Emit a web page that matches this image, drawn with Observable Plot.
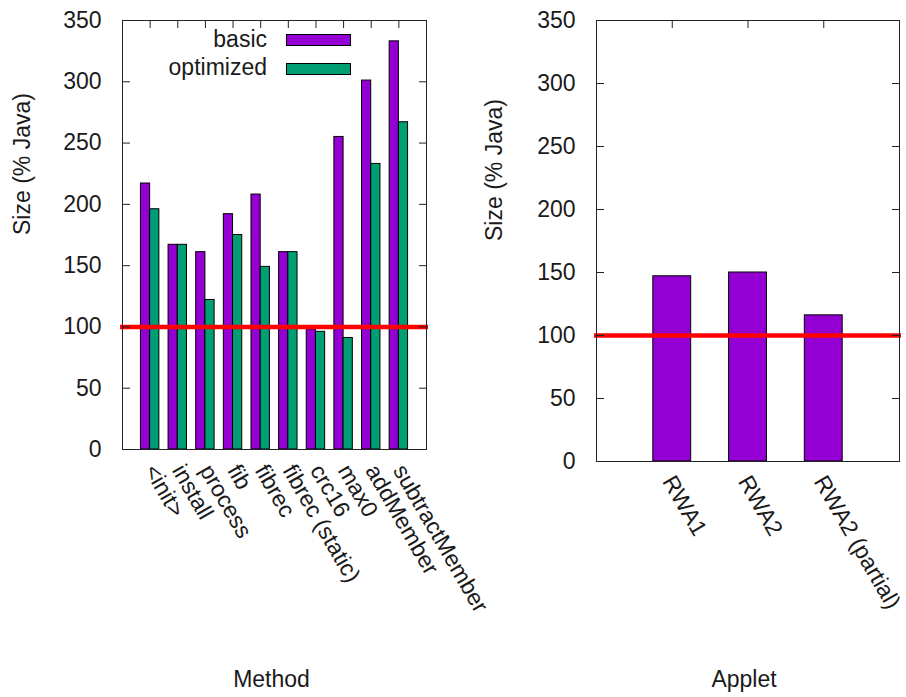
<!DOCTYPE html>
<html>
<head>
<meta charset="utf-8">
<script src="https://cdn.jsdelivr.net/npm/d3@7"></script>
<script src="https://cdn.jsdelivr.net/npm/@observablehq/plot@0.6"></script>
<style>
  body { margin: 0; background: #fff; }
  #wrap { position: relative; width: 906px; height: 697px; font-family: "Liberation Sans", Arial, sans-serif; color: #1a1a1a; }
  #wrap svg { position: absolute; top: 0; overflow: visible; background: transparent; max-width: none; }
  .leg { position: absolute; font-size: 23px; line-height: 23px; }
  .sw { position: absolute; box-sizing: border-box; border: 1px solid #000; }
</style>
</head>
<body>
<div id="wrap"></div>
<script>
// ---- data ----
const methods = ["<init>", "install", "process", "fib", "fibrec", "fibrec (static)", "crc16", "max0", "addMember", "subtractMember"];
const basicValues = [217, 167, 161, 192, 208, 161, 98, 255, 301, 333];
const optimizedValues = [196, 167, 122, 175, 149, 161, 96, 91, 233, 267];
const applets = ["RWA1", "RWA2", "RWA2 (partial)"];
const appletValues = [147, 150, 116];
const seriesNames = ["basic", "optimized"];
const yTicks = [0, 50, 100, 150, 200, 250, 300, 350];
const javaBaseline = [100];
const yLabel = "Size (% Java)";
const xLabelLeft = "Method";
const xLabelRight = "Applet";

const colors = {basic: "#9400d3", optimized: "#009e73"};
const FONT = {fontFamily: "Liberation Sans, Arial, sans-serif", fontSize: "23px", color: "#1a1a1a", background: "transparent", overflow: "visible"};

// clustered bars: gap 1, two bars per cluster
const leftBars = [];
methods.forEach((m, i) => {
  leftBars.push({method: m, series: "basic", x1: i - 1/3, x2: i, value: basicValues[i]});
  leftBars.push({method: m, series: "optimized", x1: i, x2: i + 1/3, value: optimizedValues[i]});
});
const rightBars = applets.map((a, i) => ({applet: a, x1: i - 0.25, x2: i + 0.25, value: appletValues[i]}));

const wrap = document.getElementById("wrap");

function panel({width, marginLeft, marginRight, marginBottom, xDomain, bars, fillFn, names, xTitle, xTitleDx, xTitleDy, yTitleDx, labelPad, labelDx}) {
  const idx = d3.range(names.length);
  return Plot.plot({
    width, height: 697,
    marginTop: 20, marginLeft, marginRight, marginBottom,
    style: FONT,
    x: {type: "linear", domain: xDomain},
    y: {domain: [0, 350]},
    marks: [
      Plot.rectY(bars, {x1: "x1", x2: "x2", y1: 0, y2: "value", fill: fillFn, stroke: "#000", strokeWidth: 1}),
      Plot.ruleY(javaBaseline, {stroke: "#ff0000", strokeWidth: 4.5, insetLeft: -2, insetRight: -2}),
      Plot.frame({stroke: "#222", strokeWidth: 1}),
      Plot.axisY(yTicks, {anchor: "left", tickSize: 0, tickPadding: 21, label: null, fill: "#1a1a1a"}),
      Plot.axisY(yTicks, {anchor: "left", tickSize: -8, tickFormat: () => "", label: null, stroke: "#222"}),
      Plot.axisY(yTicks, {anchor: "right", tickSize: -8, tickFormat: () => "", label: null, stroke: "#222"}),
      Plot.axisX(idx, {anchor: "top", tickSize: -7, tickFormat: () => "", label: null, stroke: "#222"}),
      Plot.axisX(idx, {anchor: "bottom", tickSize: 0, tickPadding: labelPad, dx: labelDx, tickRotate: 60, tickFormat: i => names[i], label: null, fill: "#1a1a1a"}),
      Plot.text([yLabel], {frameAnchor: "left", rotate: -90, dx: yTitleDx, text: d => d, fill: "#1a1a1a"}),
      Plot.text([xTitle], {frameAnchor: "bottom", dy: xTitleDy, dx: xTitleDx, text: d => d, fill: "#1a1a1a"})
    ]
  });
}

const right = panel({
  width: 453, marginLeft: 143, marginRight: 7, marginBottom: 236,
  xDomain: [-1, 3], bars: rightBars, fillFn: () => colors.basic, names: applets,
  xTitle: xLabelRight, xTitleDx: -4, xTitleDy: 225, yTitleDx: -102, labelPad: 16, labelDx: -4
});
right.style.left = "453px";
wrap.appendChild(right);

const left = panel({
  width: 453, marginLeft: 122, marginRight: 27, marginBottom: 248,
  xDomain: [-1, 10], bars: leftBars, fillFn: d => colors[d.series], names: methods,
  xTitle: xLabelLeft, xTitleDx: -3, xTitleDy: 237, yTitleDx: -100, labelPad: 17, labelDx: 0
});
left.style.left = "0px";
wrap.appendChild(left);

// legend (top of left panel)
seriesNames.forEach((s, k) => {
  const t = document.createElement("div");
  t.className = "leg";
  t.textContent = s;
  t.style.right = (906 - 267) + "px";
  t.style.top = (28 + k * 28) + "px";
  wrap.appendChild(t);
  const b = document.createElement("div");
  b.className = "sw";
  b.style.left = "286px";
  b.style.top = (34 + k * 28.5) + "px";
  b.style.width = "65px";
  b.style.height = "12px";
  b.style.background = colors[s];
  wrap.appendChild(b);
});
</script>
</body>
</html>
